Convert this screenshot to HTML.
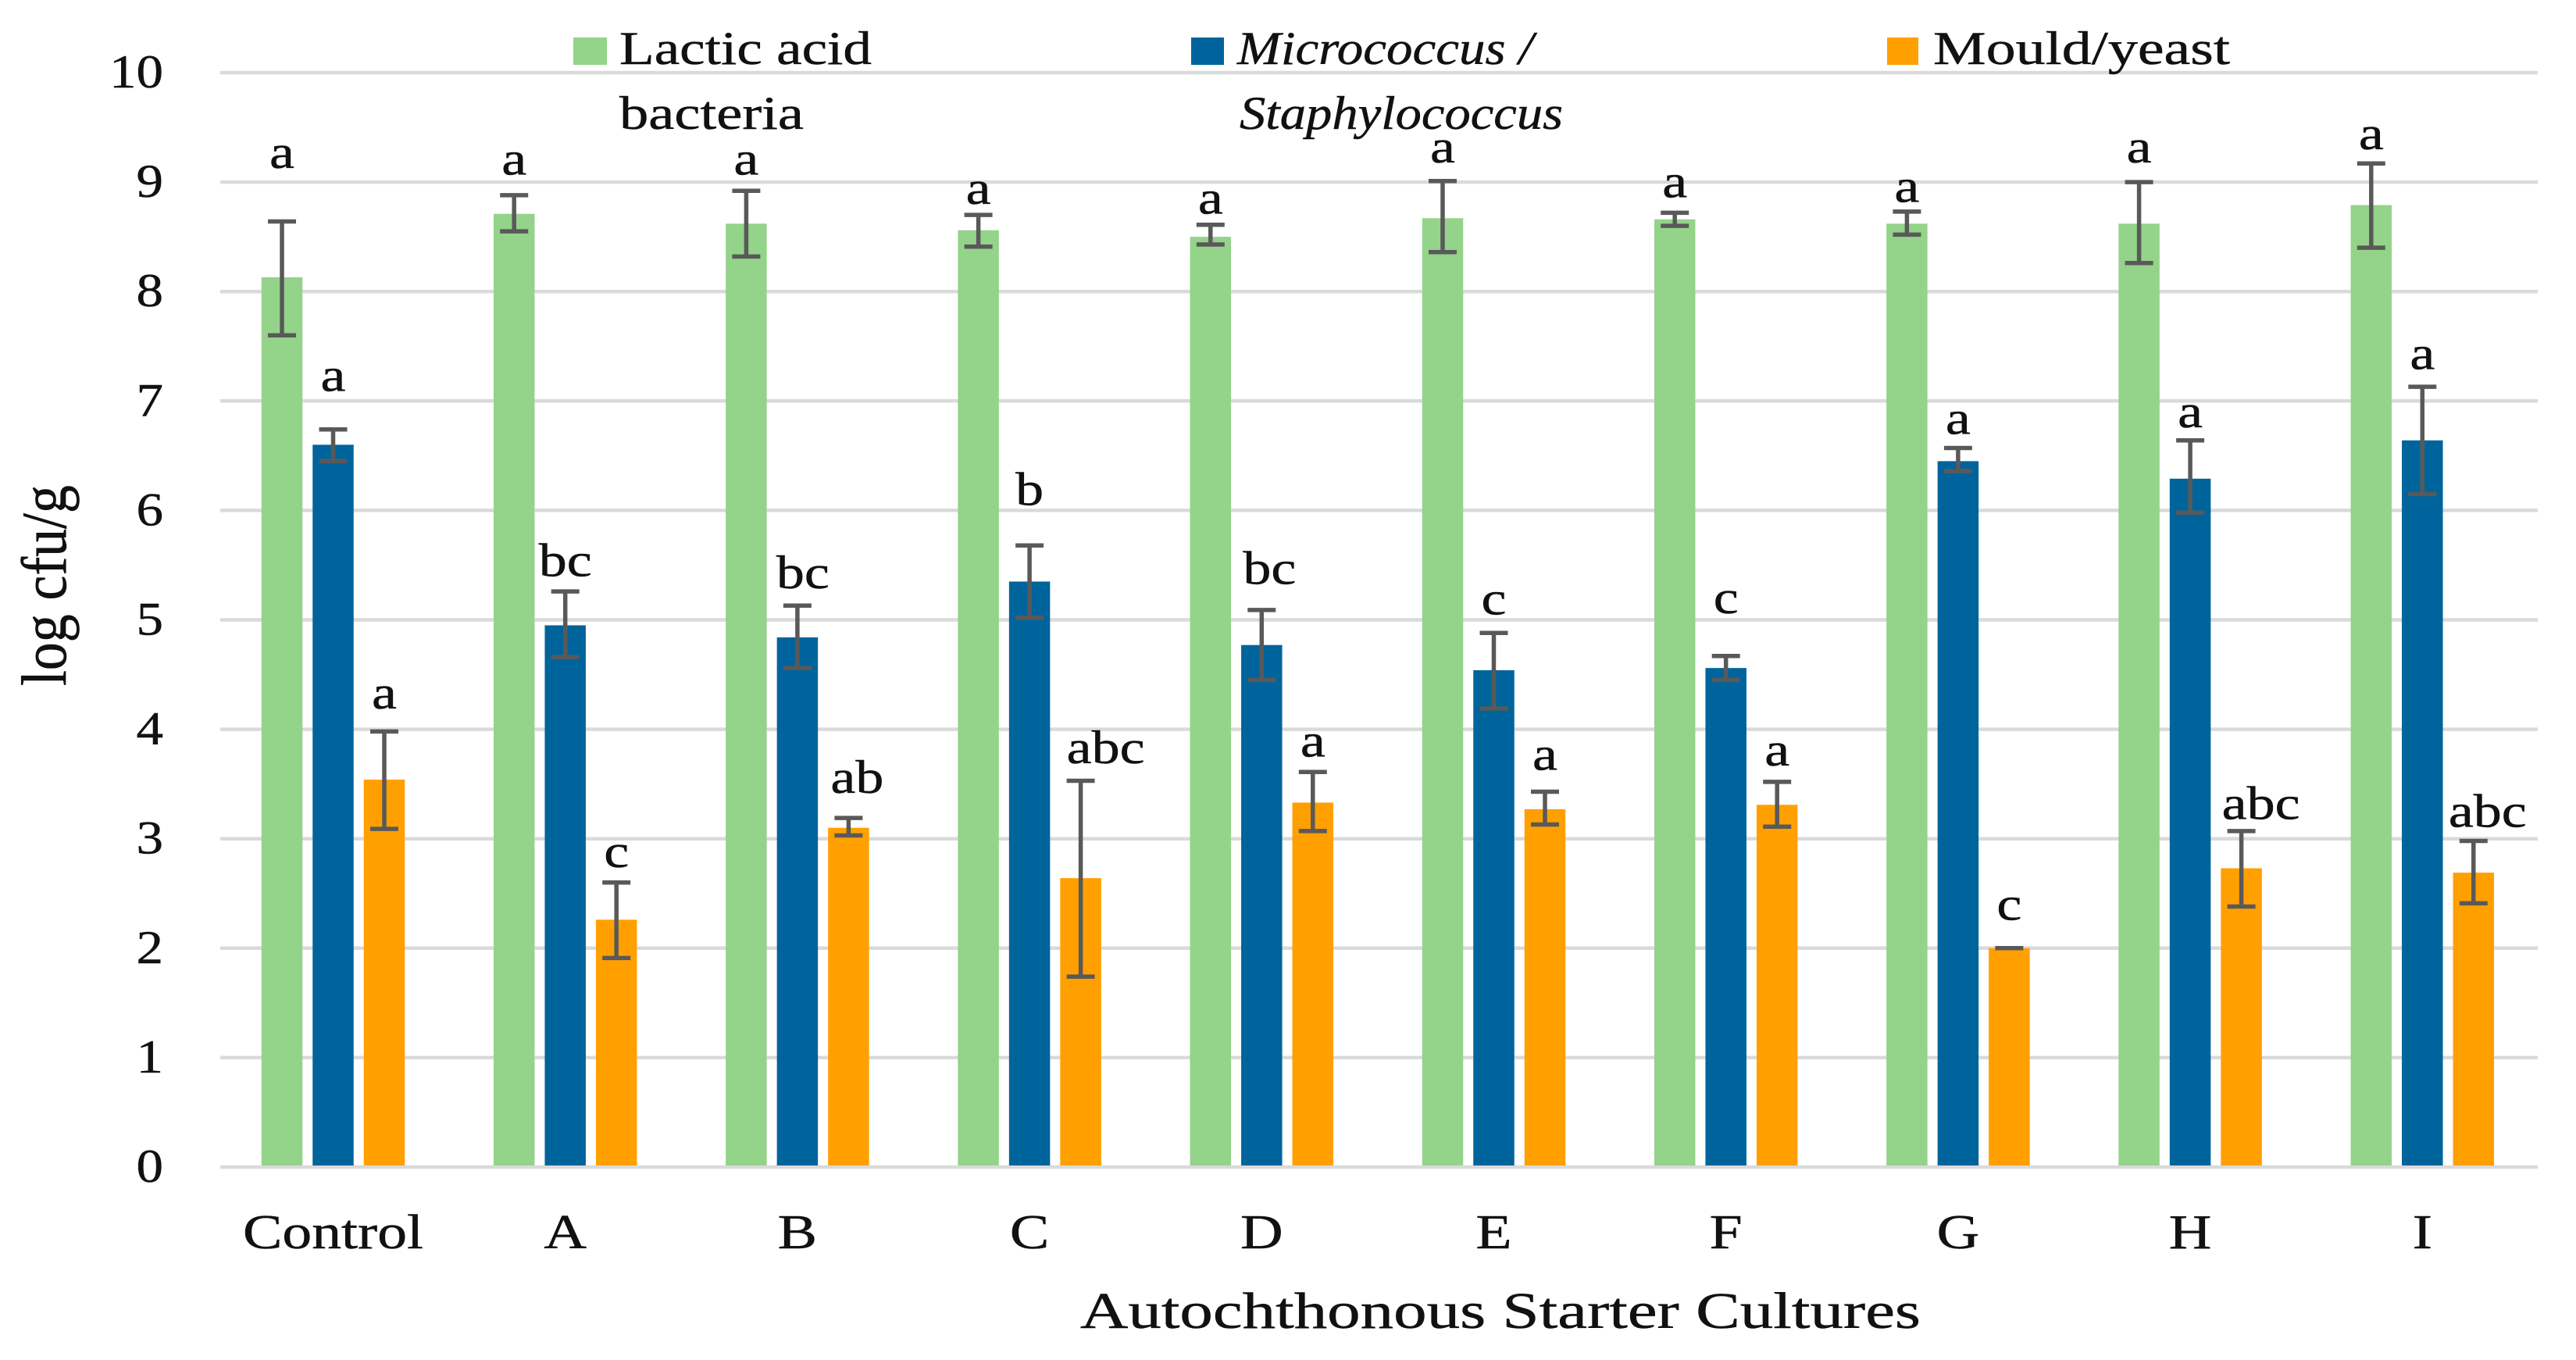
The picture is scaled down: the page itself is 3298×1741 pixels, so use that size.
<!DOCTYPE html>
<html lang="en">
<head>
<meta charset="utf-8">
<title>Autochthonous Starter Cultures chart</title>
<style>
  html, body { margin: 0; padding: 0; background: #ffffff; }
  #chart { display: block; }
  text { font-family: "Liberation Serif", "DejaVu Serif", serif; fill: #111111; stroke: #111111; stroke-width: 0.5px; }
</style>
</head>
<body>
<svg id="chart" xmlns="http://www.w3.org/2000/svg" width="3298" height="1741" viewBox="0 0 3298 1741">
  <rect x="0" y="0" width="3298" height="1741" fill="#ffffff"/>
  <g id="grid"></g>
  <g id="yticks"></g>
  <g id="xticks"></g>
  <g id="bars"></g>
  <g id="errors"></g>
  <g id="letters"></g>

  <g>
    <g>
      <rect x="734" y="48" width="43" height="35" fill="#94D38A"/>
      <text x="793" y="82" font-size="60" textLength="323" lengthAdjust="spacingAndGlyphs">Lactic acid</text>
      <text x="793" y="165" font-size="60" textLength="236" lengthAdjust="spacingAndGlyphs">bacteria</text>
    </g>
    <g>
      <rect x="1525" y="48" width="42" height="35" fill="#00649C"/>
      <text x="1584" y="82" font-size="60" font-style="italic" textLength="379" lengthAdjust="spacingAndGlyphs">Micrococcus /</text>
      <text x="1587" y="165" font-size="60" font-style="italic" textLength="414" lengthAdjust="spacingAndGlyphs">Staphylococcus</text>
    </g>
    <g>
      <rect x="2416" y="48" width="40" height="35" fill="#FFA000"/>
      <text x="2475" y="82" font-size="60" textLength="380" lengthAdjust="spacingAndGlyphs">Mould/yeast</text>
    </g>
  </g>

  <text transform="translate(84,878) rotate(-90) scale(1.12,1.28)" font-size="64">log cfu/g</text>
  <text x="1383" y="1700" font-size="66" textLength="1076" lengthAdjust="spacingAndGlyphs">Autochthonous Starter Cultures</text>
</svg>

<script>
// ---- chart data (log cfu/g) ----
const categories = ['Control', 'A', 'B', 'C', 'D', 'E', 'F', 'G', 'H', 'I'];
const yTickValues = [0, 1, 2, 3, 4, 5, 6, 7, 8, 9, 10];

const lacticValues = [8.13, 8.71, 8.62, 8.56, 8.50, 8.67, 8.66, 8.62, 8.62, 8.79];
const lacticUpper  = [8.64, 8.88, 8.92, 8.70, 8.61, 9.01, 8.72, 8.73, 9.00, 9.17];
const lacticLower  = [7.60, 8.55, 8.32, 8.41, 8.43, 8.36, 8.60, 8.52, 8.26, 8.40];
const lacticLetters = ['a', 'a', 'a', 'a', 'a', 'a', 'a', 'a', 'a', 'a'];
const lacticLetterLevel = [9.13, 9.07, 9.07, 8.80, 8.71, 9.18, 8.86, 8.82, 9.18, 9.30];

const microValues = [6.60, 4.95, 4.84, 5.35, 4.77, 4.54, 4.56, 6.45, 6.29, 6.64];
const microUpper  = [6.74, 5.26, 5.13, 5.68, 5.09, 4.88, 4.67, 6.57, 6.64, 7.13];
const microLower  = [6.45, 4.66, 4.56, 5.02, 4.45, 4.19, 4.45, 6.36, 5.98, 6.15];
const microLetters = ['a', 'bc', 'bc', 'b', 'bc', 'c', 'c', 'a', 'a', 'a'];
const microLetterLevel = [7.09, 5.40, 5.29, 6.05, 5.33, 5.05, 5.06, 6.70, 6.76, 7.29];

const mouldValues = [3.54, 2.26, 3.10, 2.64, 3.33, 3.27, 3.31, 2.00, 2.73, 2.69];
const mouldUpper  = [3.98, 2.60, 3.19, 3.53, 3.61, 3.43, 3.52, 2.00, 3.07, 2.98];
const mouldLower  = [3.09, 1.91, 3.03, 1.74, 3.07, 3.13, 3.11, 2.00, 2.38, 2.41];
const mouldLetters = ['a', 'c', 'ab', 'abc', 'a', 'a', 'a', 'c', 'abc', 'abc'];
const mouldLetterLevel = [4.19, 2.74, 3.42, 3.69, 3.75, 3.63, 3.67, 2.26, 3.18, 3.11];

// ---- layout ----
const GRID_LEFT = 282, GRID_RIGHT = 3249;
const Y_ZERO = 1494, Y_UNIT = 140.1;
const X_FIRST = 426.5, X_STEP = 297.2;
const BAR_OFFSET = 65.5, BAR_WIDTH = 52.5, CAP_WIDTH = 36;
const LETTER_NUDGE = { 'micro-2': 7, 'micro-4': 10, 'mould-2': 11, 'mould-3': 32, 'mould-8': 25, 'mould-9': 18 };

const seriesList = [
  { key: 'lactic', color: '#94D38A', slot: -1, values: lacticValues, upper: lacticUpper, lower: lacticLower, letters: lacticLetters, level: lacticLetterLevel },
  { key: 'micro',  color: '#00649C', slot: 0,  values: microValues,  upper: microUpper,  lower: microLower,  letters: microLetters,  level: microLetterLevel },
  { key: 'mould',  color: '#FFA000', slot: 1,  values: mouldValues,  upper: mouldUpper,  lower: mouldLower,  letters: mouldLetters,  level: mouldLetterLevel }
];

function yScale(v) { return Y_ZERO - Y_UNIT * v; }
function xScale(i, slot) { return X_FIRST + X_STEP * i + slot * BAR_OFFSET; }

const NS = 'http://www.w3.org/2000/svg';
function make(parent, tag, attrs, content) {
  const node = document.createElementNS(NS, tag);
  for (const k in attrs) node.setAttribute(k, attrs[k]);
  if (content !== undefined) node.textContent = content;
  parent.appendChild(node);
  return node;
}

const gridLayer = document.getElementById('grid');
const yTickLayer = document.getElementById('yticks');
const xTickLayer = document.getElementById('xticks');
const barLayer = document.getElementById('bars');
const errorLayer = document.getElementById('errors');
const letterLayer = document.getElementById('letters');

yTickValues.forEach(function (v) {
  const line = make(gridLayer, 'line', { x1: GRID_LEFT, x2: GRID_RIGHT, y1: yScale(v), y2: yScale(v), stroke: '#DADADA', 'stroke-width': 4.5 });
  
  

  const tick = make(yTickLayer, 'text', { transform: 'translate(209,' + (yScale(v) + 19) + ') scale(1.15,1)', 'font-size': 60, 'text-anchor': 'end' }, String(v));
  
  
});

categories.forEach(function (name, i) {
  const label = make(xTickLayer, 'text', { transform: 'translate(' + xScale(i, 0) + ',1598) scale(1.22,1)', 'font-size': 62, 'text-anchor': 'middle' }, name);
  
  
});

seriesList.forEach(function (s) {
  categories.forEach(function (name, i) {
    const cx = xScale(i, s.slot);
    const id = s.key + '-' + name.toLowerCase();

    const bar = make(barLayer, 'rect', { x: cx - BAR_WIDTH / 2, y: yScale(s.values[i]), width: BAR_WIDTH, height: Y_ZERO - 2 - yScale(s.values[i]), fill: s.color });
    
    

    const top = yScale(s.upper[i]), bottom = yScale(s.lower[i]);
    const err = make(errorLayer, 'path', {
      d: 'M' + (cx - CAP_WIDTH / 2) + ' ' + top + 'H' + (cx + CAP_WIDTH / 2) +
         'M' + cx + ' ' + top + 'V' + bottom +
         'M' + (cx - CAP_WIDTH / 2) + ' ' + bottom + 'H' + (cx + CAP_WIDTH / 2),
      stroke: '#595959', 'stroke-width': 5.5, fill: 'none'
    });
    
    

    const nudge = LETTER_NUDGE[s.key + '-' + i] || 0;
    const letter = make(letterLayer, 'text', {
      transform: 'translate(' + (cx + nudge) + ',' + yScale(s.level[i]) + ') scale(1.2,1)',
      'font-size': 60, 'text-anchor': 'middle'
    }, s.letters[i]);
    
    
  });
});
</script>
</body>
</html>
